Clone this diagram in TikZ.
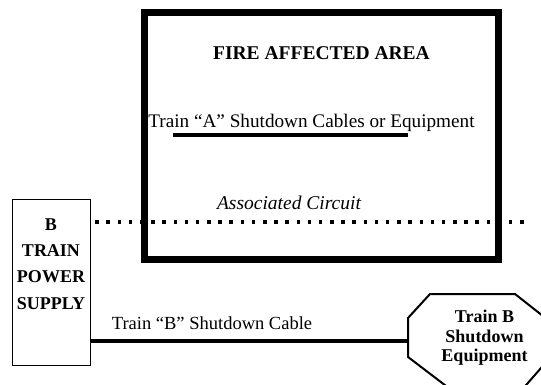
\documentclass[tikz,border=0pt]{standalone}
\usepackage{fontspec}
\setmainfont{Liberation Serif}
\begin{document}
\begin{tikzpicture}[x=1pt,y=-1pt,
  thickbox/.style={draw, line width=7pt, rectangle, inner sep=0pt, minimum width=354pt, minimum height=246pt},
  thinbox/.style={draw, line width=0.9pt, rectangle, inner sep=0pt, minimum width=78pt, minimum height=166pt},
  lbl/.style={inner sep=0pt, anchor=base},
  cable/.style={line width=3.5pt},
  dots/.style={line width=4pt, dash pattern=on 3.5pt off 7.68pt},
  octo/.style={draw, line width=2pt, line join=miter}
]
\useasboundingbox (0,0) rectangle (541,385);
\clip (0,0) rectangle (541,385);
% dotted associated circuit
\coordinate (dotL) at (95.3,222);
\coordinate (dotR) at (523.8,222);
\draw[dots] (dotL) -- (dotR);
% fire affected area
\node[thickbox] (area) at (321,136) {};
\node[lbl, font=\bfseries\fontsize{19.5}{23}\selectfont] (title) at (321.5,60) {FIRE AFFECTED AREA};
\node[lbl, font=\fontsize{19.2}{23}\selectfont] (traina) at (311.5,128) {Train “A” Shutdown Cables or Equipment};
\coordinate (ulL) at (173,135);
\coordinate (ulR) at (408,135);
\draw[cable] (ulL) -- (ulR);
\node[lbl, font=\itshape\fontsize{19.5}{23}\selectfont] (assoc) at (289,209.3) {Associated Circuit};
% power supply
\node[thinbox] (psbox) at (51,282) {};
\node[inner sep=0pt, anchor=north, align=center, font=\bfseries\fontsize{18}{26.4}\selectfont] (pstext) at (51,218.1) {B\\TRAIN\\POWER\\SUPPLY};
% octagon
\coordinate (o1) at (408,318);
\coordinate (o2) at (430,294);
\coordinate (o3) at (515,294);
\coordinate (o4) at (548,320);
\coordinate (o5) at (548,360);
\coordinate (o6) at (520,392);
\coordinate (o7) at (454,392);
\coordinate (o8) at (408,357);
\draw[octo] (o1) -- (o2) -- (o3) -- (o4) -- (o5) -- (o6) -- (o7) -- (o8) -- cycle;
\node[inner sep=0pt, anchor=north, align=center, font=\bfseries\fontsize{18}{19.5}\selectfont] (eqtext) at (484.5,310.3) {Train B\\Shutdown\\Equipment};
% cable
\coordinate (cabL) at (psbox.east |- 0,341);
\coordinate (cabR) at (408,341);
\draw[cable] (cabL) -- (cabR);
\node[lbl, anchor=base west, font=\fontsize{18.5}{22}\selectfont] (cablbl) at (111.7,329.3) {Train “B” Shutdown Cable};
\end{tikzpicture}
\end{document}
